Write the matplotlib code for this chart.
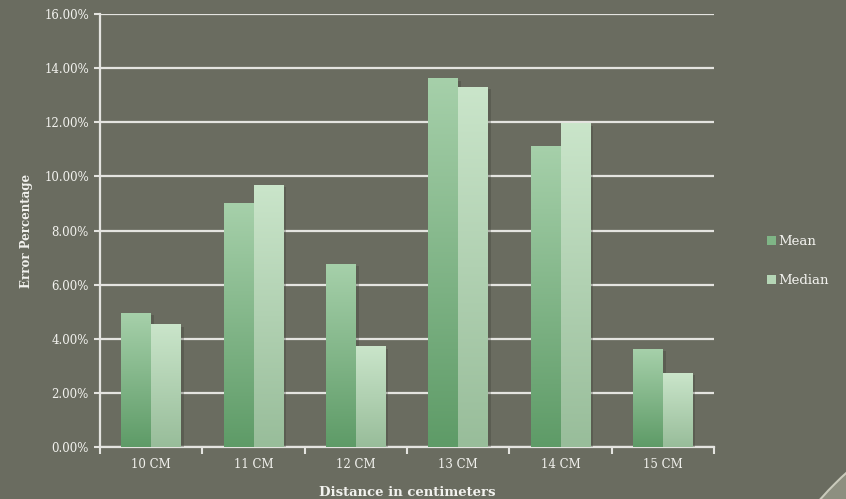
import numpy as np
import matplotlib
matplotlib.use("Agg")
import matplotlib.pyplot as plt
import matplotlib.patheffects as pe
from matplotlib.patches import Circle, Patch
from matplotlib.colors import LinearSegmentedColormap
from matplotlib.ticker import PercentFormatter, FixedLocator, NullFormatter

categories = ["10 CM", "11 CM", "12 CM", "13 CM", "14 CM", "15 CM"]
mean_err = [4.95, 8.98, 6.76, 13.6, 11.09, 3.62]
median_err = [4.51, 9.68, 3.70, 13.3, 11.94, 2.73]

BG = "#6a6c60"
TXT = "#f2f2ee"
plt.rcParams["font.family"] = ["DejaVu Serif"]

fig = plt.figure(figsize=(8.46, 4.99), dpi=100, facecolor=BG)
ax = fig.add_axes([100 / 846, 52 / 499, 614 / 846, 433 / 499])
ax.set_facecolor(BG)

# page curl in the bottom right corner
curl = Circle((1100 / 100, -250 / 100), 375 / 100, transform=fig.dpi_scale_trans,
              facecolor="#8d8f80", edgecolor="#c9cabb", linewidth=1.5)
fig.patches.append(curl)

x = np.arange(len(categories))
w = 0.29

mean_cmap = LinearSegmentedColormap.from_list("mean", ["#5e9b67", "#a6d0aa"])
median_cmap = LinearSegmentedColormap.from_list("median", ["#98bd9a", "#cae5ca"])
grad = np.linspace(0, 1, 256).reshape(-1, 1)

shadow = [pe.SimplePatchShadow(offset=(2, -1.5), shadow_rgbFace="#3a3b33", alpha=0.3), pe.Normal()]
for offs, vals, cmap in [(-w / 2, mean_err, mean_cmap), (w / 2, median_err, median_cmap)]:
    bars = ax.bar(x + offs, vals, width=w, color=cmap(0.5), zorder=3, linewidth=0)
    for b in bars:
        b.set_path_effects(shadow)
        x0, y0 = b.get_x(), b.get_y()
        ax.imshow(grad, cmap=cmap, origin="lower", aspect="auto", zorder=4,
                  extent=[x0, x0 + b.get_width(), y0, y0 + b.get_height()])

ax.set_xlim(-0.5, len(categories) - 0.5)
ax.set_ylim(0, 16)
ax.yaxis.set_major_locator(FixedLocator(np.arange(0, 17, 2)))
ax.yaxis.set_major_formatter(PercentFormatter(decimals=2))
ax.grid(axis="y", color="#e4e4e0", linewidth=1.6, zorder=1)
ax.set_axisbelow(True)

ax.set_xticks(x)
ax.set_xticklabels(categories)
ax.xaxis.set_minor_locator(FixedLocator(np.arange(-0.5, len(categories), 1)))
ax.xaxis.set_minor_formatter(NullFormatter())
ax.tick_params(axis="x", which="major", length=0, pad=8, labelsize=8.5, colors=TXT)
ax.tick_params(axis="x", which="minor", length=5, width=1.5, color="#e4e4e0")
ax.tick_params(axis="y", length=4, width=1.5, color="#e4e4e0", labelsize=8.5, labelcolor=TXT, pad=4)

for s in ["top", "right"]:
    ax.spines[s].set_visible(False)
for s in ["left", "bottom"]:
    ax.spines[s].set_color("#e4e4e0")
    ax.spines[s].set_linewidth(1.6)

ax.set_ylabel("Error Percentage", fontsize=8.5, fontweight="bold", color=TXT, labelpad=8)
ax.set_xlabel("Distance in centimeters", fontsize=9.5, fontweight="bold", color=TXT, labelpad=11)

handles = [Patch(facecolor="#7fb586", edgecolor="none"), Patch(facecolor="#b5d6b6", edgecolor="none")]
leg = fig.legend(handles, ["Mean", "Median"], loc="center left", bbox_to_anchor=(755 / 846, 238 / 499),
                 frameon=False, fontsize=9.5, labelcolor=TXT, handlelength=0.7, handleheight=0.7,
                 handletextpad=0.2, labelspacing=2.0)

fig.savefig("out.png", dpi=100, facecolor=BG)
